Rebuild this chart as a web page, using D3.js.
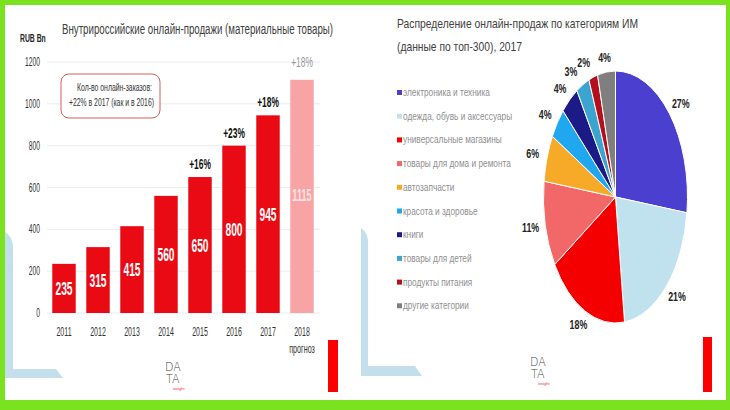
<!DOCTYPE html>
<html>
<head>
<meta charset="utf-8">
<script src="https://cdn.jsdelivr.net/npm/d3@7"></script>
<style>
  body { margin: 0; background: #fff; }
  svg text { font-family: "Liberation Sans", Arial, sans-serif; }
</style>
</head>
<body>
<svg id="chart"></svg>
<script>
// Left chart data
const years = ["2011", "2012", "2013", "2014", "2015", "2016", "2017", "2018"];
const sales = [235, 315, 415, 560, 650, 800, 945, 1115];
const growth = ["", "", "", "", "+16%", "+23%", "+18%", "+18%"];
const yTicks = [0, 200, 400, 600, 800, 1000, 1200];

// Right chart data
const categories = [
  "электроника и техника",
  "одежда, обувь и аксессуары",
  "универсальные магазины",
  "товары для дома и ремонта",
  "автозапчасти",
  "красота и здоровье",
  "книги",
  "товары для детей",
  "продукты питания",
  "другие категории"
];
const shares = [27, 21, 18, 11, 6, 4, 4, 3, 2, 4];
const pieColors = ["#4b3fcf", "#c0e2ef", "#f40000", "#f26868", "#f7a928", "#1fa8ef", "#1c1a86", "#3ba5cf", "#b3101c", "#7f7f7f"];

const width = 730, height = 410;
const svg = d3.select("#chart").attr("width", width).attr("height", height);

// the source slide is squeezed sideways, so text is drawn narrowed
function place(sel, fx, fy, k) {
  return sel.attr("transform", (d, i) => `translate(${fx(d, i)},${fy(d, i)}) scale(${k},1)`);
}

// Frame and decorations
svg.append("rect").attr("width", width).attr("height", height).attr("fill", "#7ae21f");
svg.append("rect").attr("x", 5).attr("y", 5).attr("width", 721).attr("height", 395).attr("fill", "#fff");

const deco = "#c3dfec";
svg.append("path")
  .attr("d", "M5,232 Q12,236 13,246 L13,369 L56,369 L63,378 L5,378 Z")
  .attr("fill", deco);
svg.append("path")
  .attr("d", "M361,228 Q367,232 368,240 L368,366 L415,366 L422,376 L361,376 Z")
  .attr("fill", deco);

// red small bars
svg.append("rect").attr("x", 328).attr("y", 340).attr("width", 10).attr("height", 52).attr("fill", "#f00");
svg.append("rect").attr("x", 703).attr("y", 337).attr("width", 9).attr("height", 55).attr("fill", "#f00");

// DATA insight logos
function logo(x, y) {
  const g = svg.append("g").attr("transform", `translate(${x},${y})`);
  g.append("text").attr("transform", "scale(0.85,1)").text("DA")
    .style("font-size", "13px").style("fill", "#444").style("font-family", "DejaVu Sans").style("font-weight", "200");
  g.append("text").attr("transform", "translate(1,12) scale(0.85,1)").text("TA")
    .style("font-size", "13px").style("fill", "#444").style("font-family", "DejaVu Sans").style("font-weight", "200");
  g.append("text").attr("x", 8).attr("y", 19).text("insight")
    .style("font-size", "4px").style("fill", "#e33");
}
logo(165, 371);
logo(530, 366);

// ---------- Left bar chart ----------
const x = d3.scaleBand().domain(years).range([47, 319]).paddingInner(0.31).paddingOuter(0.155);
const y = d3.scaleLinear().domain([0, 1200]).range([313, 62]);
const cxBar = d => x(d) + x.bandwidth() / 2;

svg.append("text").attr("x", 62).attr("y", 34)
  .attr("textLength", 271).attr("lengthAdjust", "spacingAndGlyphs")
  .style("font-size", "14px").style("fill", "#404040")
  .text("Внутрироссийские онлайн-продажи (материальные товары)");

place(svg.append("text"), () => 20, () => 42, 0.62)
  .style("font-size", "11px").style("font-weight", "bold").style("fill", "#222")
  .text("RUB Bn");

svg.selectAll(".grid").data(yTicks).enter().append("line")
  .attr("x1", 47).attr("x2", 320)
  .attr("y1", d => y(d)).attr("y2", d => y(d))
  .attr("stroke", "#ececec").attr("stroke-width", 1);

place(svg.selectAll(".ytick").data(yTicks).enter().append("text"), () => 40, d => y(d) + 4, 0.56)
  .attr("text-anchor", "end")
  .style("font-size", "12px").style("fill", "#333")
  .text(d => d);

svg.selectAll(".bar").data(years).enter().append("rect")
  .attr("x", d => x(d))
  .attr("y", (d, i) => y(sales[i]))
  .attr("width", x.bandwidth())
  .attr("height", (d, i) => y(0) - y(sales[i]))
  .attr("fill", (d, i) => i === 7 ? "#f9a4a4" : "#ea0a14");

place(svg.selectAll(".val").data(years).enter().append("text"),
    d => cxBar(d), (d, i) => (y(sales[i]) + y(0)) / 2 + (i === 7 ? 5 : 6.5), 0.57)
  .attr("text-anchor", "middle")
  .style("font-size", (d, i) => i === 7 ? "16px" : "18px")
  .style("font-weight", "bold")
  .style("fill", (d, i) => i === 7 ? "#fde4e4" : "#fff")
  .text((d, i) => sales[i]);

place(svg.selectAll(".growth").data(years).enter().append("text"),
    d => cxBar(d), (d, i) => i === 7 ? 67 : y(sales[i]) - 8, 0.6)
  .attr("text-anchor", "middle")
  .style("font-size", "14px")
  .style("font-weight", (d, i) => i === 7 ? "normal" : "bold")
  .style("fill", (d, i) => i === 7 ? "#9a9a9a" : "#111")
  .text((d, i) => growth[i]);

place(svg.selectAll(".xlab").data(years).enter().append("text"), d => cxBar(d), () => 336, 0.54)
  .attr("text-anchor", "middle")
  .style("font-size", "13px").style("fill", "#333")
  .text(d => d);

place(svg.append("text"), () => cxBar("2018"), () => 353, 0.6)
  .attr("text-anchor", "middle")
  .style("font-size", "12px").style("fill", "#333")
  .text("прогноз");

// annotation box
svg.append("rect").attr("x", 61).attr("y", 74).attr("width", 99).attr("height", 44)
  .attr("rx", 8).attr("fill", "#fff").attr("stroke", "#d65a5a").attr("stroke-width", 1);
svg.append("text").attr("x", 77).attr("y", 91)
  .attr("textLength", 75).attr("lengthAdjust", "spacingAndGlyphs")
  .style("font-size", "11px").style("fill", "#333").text("Кол-во онлайн-заказов:");
svg.append("text").attr("x", 69).attr("y", 106)
  .attr("textLength", 85).attr("lengthAdjust", "spacingAndGlyphs")
  .style("font-size", "11px").style("fill", "#333").text("+22% в 2017 (как и в 2016)");

// ---------- Right pie chart ----------
svg.append("text").attr("x", 397).attr("y", 28)
  .attr("textLength", 241).attr("lengthAdjust", "spacingAndGlyphs")
  .style("font-size", "13.5px").style("fill", "#404040")
  .text("Распределение онлайн-продаж по категориям ИМ");
svg.append("text").attr("x", 397).attr("y", 51)
  .attr("textLength", 125).attr("lengthAdjust", "spacingAndGlyphs")
  .style("font-size", "13.5px").style("fill", "#404040")
  .text("(данные по  топ-300), 2017");

const legend = svg.append("g").attr("transform", "translate(397, 96)");
legend.selectAll("rect").data(categories).enter().append("rect")
  .attr("x", 0).attr("y", (d, i) => i * 23.7 - 6).attr("width", 5).attr("height", 5)
  .attr("fill", (d, i) => pieColors[i]);
place(legend.selectAll("text").data(categories).enter().append("text"), () => 6, (d, i) => i * 23.7, 0.72)
  .style("font-size", "11.5px").style("fill", "#8f8f8f")
  .text(d => d);

const cx = 615.5, cy = 197, rx = 72, ry = 126;
const pie = d3.pie().sort(null).value(d => d);
const arcs = pie(shares);
const arc = d3.arc().innerRadius(0).outerRadius(ry);

const pieG = svg.append("g").attr("transform", `translate(${cx},${cy}) scale(${rx / ry},1)`);
pieG.selectAll("path").data(arcs).enter().append("path")
  .attr("d", arc)
  .attr("fill", (d, i) => pieColors[i])
  .attr("stroke", "#fff")
  .attr("stroke-width", 1)
  .attr("vector-effect", "non-scaling-stroke");

const mid = d => (d.startAngle + d.endAngle) / 2;
place(svg.selectAll(".plab").data(arcs).enter().append("text"),
    d => cx + (rx + 15) * Math.sin(mid(d)) - (d.index === 7 || d.index === 8 ? 5 : 0),
    d => cy - (ry + 15) * Math.cos(mid(d)) + 4.5, 0.68)
  .attr("text-anchor", "middle")
  .style("font-size", "13px").style("font-weight", "bold").style("fill", "#222")
  .text(d => d.data + "%");
</script>
</body>
</html>
